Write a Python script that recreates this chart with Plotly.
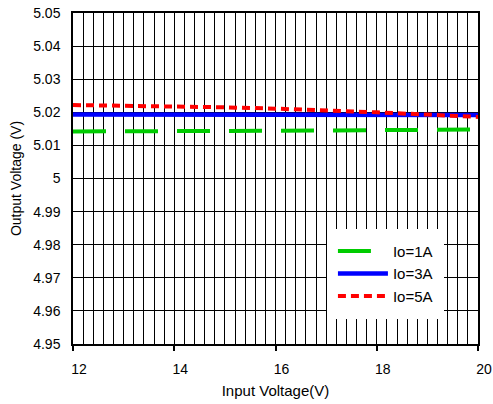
import plotly.graph_objects as go

# Line regulation: output voltage vs input voltage at three load currents
vin = [12, 13, 14, 15, 16, 17, 18, 19, 20]
vout_1a = [5.0142, 5.0142, 5.0143, 5.0144, 5.0145, 5.0145, 5.0146, 5.0147, 5.0148]
vout_3a = [5.0193, 5.0193, 5.0193, 5.0193, 5.0193, 5.0193, 5.0192, 5.0192, 5.0192]
vout_5a = [5.0222, 5.0220, 5.0218, 5.0215, 5.0211, 5.0206, 5.0200, 5.0193, 5.0186]

x_ticks = [12, 14, 16, 18, 20]
y_ticks = [4.95, 4.96, 4.97, 4.98, 4.99, 5.0, 5.01, 5.02, 5.03, 5.04, 5.05]
y_tick_text = ["4.95", "4.96", "4.97", "4.98", "4.99", "5", "5.01", "5.02", "5.03", "5.04", "5.05"]

FONT = "Liberation Sans, Arial, sans-serif"

fig = go.Figure()
fig.add_trace(go.Scatter(x=vin, y=vout_1a, mode="lines", name="Io=1A",
                         line=dict(color="#00cc00", width=4, dash="33px,19px")))
fig.add_trace(go.Scatter(x=vin, y=vout_3a, mode="lines", name="Io=3A",
                         line=dict(color="#0000ff", width=4.5)))
fig.add_trace(go.Scatter(x=vin, y=vout_5a, mode="lines", name="Io=5A",
                         line=dict(color="#ff0000", width=4, dash="8px,5px")))

fig.update_layout(
    width=493, height=404,
    margin=dict(l=73, r=15, t=13, b=60),
    paper_bgcolor="white", plot_bgcolor="white",
    font=dict(family=FONT, color="black", size=14),
    showlegend=True,
    legend=dict(x=0.627, y=0.348, xanchor="left", yanchor="top",
                bgcolor="white", bordercolor="white", borderwidth=6, itemwidth=50,
                font=dict(size=15, family=FONT), tracegroupgap=0),
    xaxis=dict(
        range=[12, 20], tickvals=x_ticks, automargin=False,
        showline=True, linecolor="black", linewidth=1.5, mirror=True,
        showgrid=True, gridcolor="black", gridwidth=1,
        ticks="outside", ticklen=5, tickwidth=2, tickcolor="black",
        ticklabelshift=6, ticklabelstandoff=6,
        minor=dict(dtick=0.2, showgrid=True, gridcolor="black", gridwidth=1),
        zeroline=False,
        title=dict(text="Input Voltage(V)", font=dict(size=15), standoff=10),
    ),
    yaxis=dict(
        range=[4.95, 5.05], tickvals=y_ticks, ticktext=y_tick_text, automargin=False,
        showline=True, linecolor="black", linewidth=1.5, mirror=True,
        showgrid=True, gridcolor="black", gridwidth=1,
        ticks="", ticklabelstandoff=8,
        zeroline=False,
        title=dict(text="Output Voltage (V)", font=dict(size=14), standoff=8),
    ),
)

fig.write_html("out.html")
